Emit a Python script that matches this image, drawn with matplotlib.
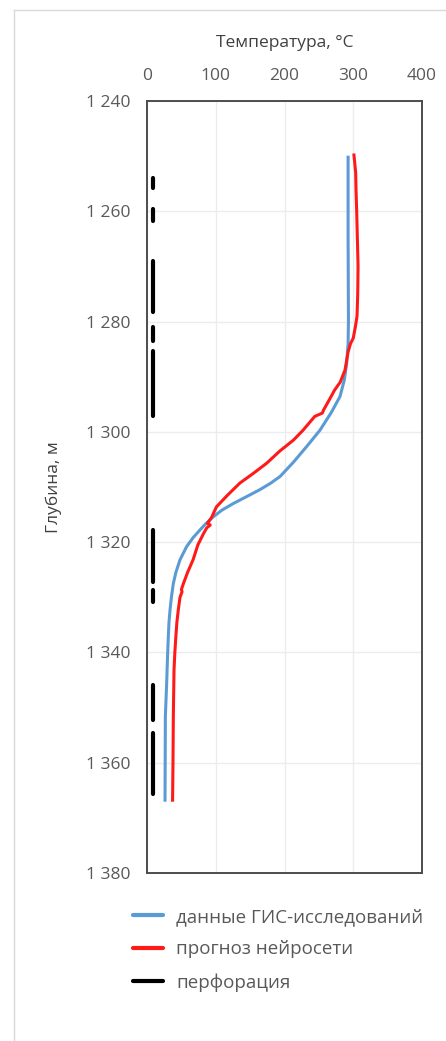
import matplotlib
matplotlib.use("Agg")
import matplotlib.pyplot as plt
from matplotlib.lines import Line2D

plt.rcParams['font.family'] = ['Open Sans', 'DejaVu Sans']

# --- data ---
gis_depth = [1250.2, 1265, 1280, 1284, 1287.6, 1290.6, 1293.6, 1296.5, 1299.7,
             1302.7, 1305.5, 1308.1, 1309.3, 1310.5, 1311.8, 1313.0, 1314.2,
             1315.4, 1316.6, 1317.8, 1319.2, 1320.8, 1323.2, 1325.5, 1327.5,
             1330, 1332.3, 1334.5, 1337.1, 1341, 1345.6, 1351.6, 1358, 1366.8]
gis_temp = [292.5, 292.5, 293, 292.5, 290.4, 287, 280.7, 268, 251.6,
            232, 213, 193.5, 180, 164, 144, 125.5, 109,
            96.5, 86, 77, 67, 57.7, 48, 42, 38.3,
            35.5, 33.5, 32, 31, 29.8, 28.6, 26.7, 26.5, 26.2]

nn_depth = [1249.8, 1251, 1253, 1256, 1260, 1265, 1270, 1275, 1279, 1281,
            1283, 1284, 1285.5, 1288.8, 1291, 1292.4, 1294, 1296,
            1296.6, 1297.2, 1299.7, 1301.5, 1303.5, 1305.7, 1307.5, 1309.3,
            1311.5, 1313.6, 1315.5, 1316.6, 1316.9, 1317.4, 1318.5, 1320.5,
            1323.2, 1325.5, 1327.5, 1328.6, 1329.0, 1330, 1332.3, 1334.5, 1337.1,
            1340, 1343.2, 1351.6, 1360, 1366.8]
nn_temp = [301, 302, 303.5, 304, 305, 306, 307, 306.5, 305.5, 303,
           300, 296, 292.5, 288, 281, 273, 266, 257,
           255, 244, 227, 213, 193, 174, 155, 135,
           117, 101, 94, 88, 92, 87, 82, 74,
           67, 59, 53, 50, 51, 48, 45.5, 43.5, 42,
           40.5, 39.3, 38.3, 37.8, 37.2]

perf_top = [1253.9, 1259.6, 1269.0, 1280.9, 1285.3, 1317.8, 1328.7, 1345.9, 1354.7]
perf_bot = [1255.8, 1261.7, 1278.2, 1283.6, 1297.1, 1327.2, 1330.8, 1352.3, 1365.6]
perf_temp = 9

x_ticks = [0, 100, 200, 300, 400]
y_ticks = [1240, 1260, 1280, 1300, 1320, 1340, 1360, 1380]

blue = '#5b9bd5'
red = '#ff1a1a'
text_c = '#595959'

fig = plt.figure(figsize=(4.46, 10.41), dpi=100)
ax = fig.add_axes([0.3296, 0.1614, 0.6166, 0.7416])

for top, bot in zip(perf_top, perf_bot):
    ax.plot([perf_temp, perf_temp], [top, bot], color='black', lw=3,
            solid_capstyle='round')
ax.plot(gis_temp, gis_depth, color=blue, lw=2.2)
ax.plot(nn_temp, nn_depth, color=red, lw=2.2)

ax.set_xlim(0, 400)
ax.set_ylim(1380, 1240)
ax.xaxis.tick_top()
ax.xaxis.set_label_position('top')
ax.set_xticks(x_ticks)
ax.set_yticks(y_ticks)
ax.set_yticklabels([f"{v:,}".replace(',', ' ') for v in y_ticks])
ax.tick_params(length=0, labelsize=12.5, colors=text_c, pad=12)
ax.grid(True, color='#ececec', lw=1)
ax.set_axisbelow(True)
for s in ax.spines.values():
    s.set_color('#4d4d4d')
    s.set_linewidth(1.4)

ax.set_xlabel('Температура, °C', fontsize=12.5, color='#404040', labelpad=15)
ax.set_ylabel('Глубина, м', fontsize=12.5, color='#404040', labelpad=17)

handles = [Line2D([], [], color=blue, lw=3, solid_capstyle='round'),
           Line2D([], [], color=red, lw=3, solid_capstyle='round'),
           Line2D([], [], color='black', lw=3, solid_capstyle='round')]
labels = ['данные ГИС-исследований', 'прогноз нейросети', 'перфорация']
leg = fig.legend(handles, labels, loc='upper left', bbox_to_anchor=(0.298, 0.128),
                 frameon=False, fontsize=13.5, handlelength=1.6, handletextpad=0.7,
                 labelspacing=0.78, borderaxespad=0, borderpad=0)
for t in leg.get_texts():
    t.set_color(text_c)

# light outer frame of the original figure
fig.add_artist(Line2D([14 / 446, 14 / 446], [0, 1 - 10 / 1041],
                      transform=fig.transFigure, color='#d9d9d9', lw=1))
fig.add_artist(Line2D([14 / 446, 1], [1 - 10 / 1041, 1 - 10 / 1041],
                      transform=fig.transFigure, color='#d9d9d9', lw=1))

fig.savefig('out.png', dpi=100, facecolor='white')
